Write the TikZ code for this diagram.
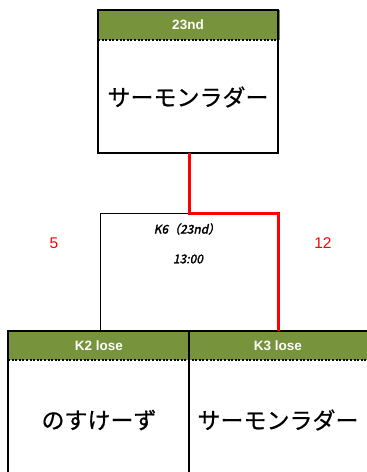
\documentclass[tikz,border=0pt]{standalone}
\usepackage{fontspec}
\setmainfont{Liberation Sans}
\newfontfamily\cjk[FakeBold=0.6]{Noto Sans CJK JP}
\newfontfamily\cjkit[FakeSlant=0.2,FakeBold=2.2]{Noto Sans CJK JP}
\definecolor{hdrgreen}{HTML}{77933C}
\definecolor{wred}{HTML}{FF0000}
\tikzset{
  teambox/.style={draw=black, line width=2pt, inner sep=0pt, outer sep=0pt, anchor=north west},
  hdrbox/.style={fill=hdrgreen, inner sep=0pt, outer sep=0pt, anchor=north west},
  hdrtext/.style={text=white, font=\bfseries\fontsize{13.5}{15}\selectfont},
  teamname/.style={font=\cjk\fontsize{23}{27}\selectfont},
  seedtext/.style={text=wred, font=\fontsize{15.5}{18}\selectfont},
  matchtext/.style={font=\cjkit\fontsize{12}{14}\selectfont},
  dotline/.style={line width=1.6pt, dash pattern=on 2pt off 1.6pt},
  winline/.style={draw=wred, line width=3pt}
}
\begin{document}
\begin{tikzpicture}[x=1pt,y=-1pt]
\useasboundingbox (0,0) rectangle (367,472);
\clip (0,0) rectangle (367,472);
% match box
\node[draw=black, line width=1pt, inner sep=0pt, outer sep=0pt, anchor=north west,
      minimum width=178pt, minimum height=118pt] (match) at (100,213) {};
% top box
\node[hdrbox, minimum width=182pt, minimum height=30pt] (tophdr) at (98,10) {};
\node[teambox, minimum width=180pt, minimum height=143pt] (top) at (98,10) {};
\draw[dotline] (98,40) -- (278,40);
% bottom boxes
\node[hdrbox, minimum width=181pt, minimum height=29pt] (k2hdr) at (8,331) {};
\node[hdrbox, minimum width=190pt, minimum height=29pt] (k3hdr) at (189,331) {};
\node[teambox, minimum width=181pt, minimum height=160pt] (k2) at (8,331) {};
\node[teambox, minimum width=190pt, minimum height=160pt] (k3) at (189,331) {};
\draw[dotline] (8,360) -- (367,360);
% texts
\node[hdrtext] (t23) at (188,25) {23nd};
\node[teamname] (ntop) at (188,97) {サーモンラダー};
\node[hdrtext] (tk2) at (99,346) {K2 lose};
\node[hdrtext] (tk3) at (278,346) {K3 lose};
\node[teamname] (nk2) at (99,420) {のすけーず};
\node[teamname] (nk3) at (278,420) {サーモンラダー};
\node[matchtext] (mid) at (187,229) {K6（23nd）};
\node[matchtext] (mtime) at (188,259) {13:00};
\node[seedtext] (s5) at (54,243) {5};
\node[seedtext] (s12) at (323,243) {12};
% winner path
\draw[winline] (189,153) |- (match.north east) -- (match.north east |- k3.north);
\end{tikzpicture}
\end{document}
